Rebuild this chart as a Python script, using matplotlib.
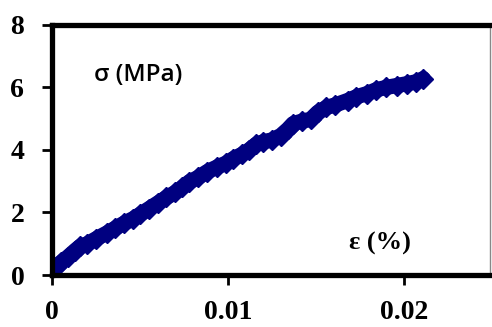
import matplotlib
matplotlib.use("Agg")
import matplotlib.pyplot as plt

# strain (%) and stress (MPa)
strain = [0.0000, 0.0002, 0.0005, 0.0009, 0.0013, 0.0016, 0.0020, 0.0025,
          0.0031, 0.0036, 0.0041, 0.0046, 0.0050, 0.0055, 0.0060, 0.0065,
          0.0070, 0.0074, 0.0078, 0.0083, 0.0088, 0.0094, 0.0099, 0.0103,
          0.0108, 0.0112, 0.0116, 0.0120, 0.0125, 0.0130, 0.0134, 0.0137,
          0.0142, 0.0147, 0.0151, 0.0156, 0.0161, 0.0168, 0.0173, 0.0179,
          0.0184, 0.0190, 0.0196, 0.0202, 0.0207, 0.0211]
stress = [0.18, 0.26, 0.40, 0.58, 0.78, 0.92, 1.00, 1.16,
          1.34, 1.50, 1.66, 1.80, 1.94, 2.12, 2.30, 2.48,
          2.64, 2.80, 2.98, 3.12, 3.30, 3.46, 3.58, 3.72,
          3.86, 4.00, 4.18, 4.26, 4.32, 4.46, 4.66, 4.84,
          4.92, 4.98, 5.20, 5.36, 5.44, 5.58, 5.70, 5.80,
          5.92, 6.00, 6.06, 6.12, 6.18, 6.28]

xticks = [0, 0.01, 0.02]
xtick_labels = ["0", "0.01", "0.02"]
yticks = [0, 2, 4, 6, 8]

fig = plt.figure(figsize=(4.92, 3.27), dpi=100)
ax = fig.add_axes([0.106, 0.159, 0.89, 0.765])

ax.plot(strain, stress, color="#000080", lw=11, solid_capstyle="round",
        solid_joinstyle="round", marker="D", ms=10)

ax.set_xlim(0, 0.0249)
ax.set_ylim(0, 8)
ax.set_xticks(xticks)
ax.set_xticklabels(xtick_labels)
ax.set_yticks(yticks)

for side in ["left", "bottom", "top"]:
    ax.spines[side].set_linewidth(3.8)
    ax.spines[side].set_color("black")
ax.spines["right"].set_linewidth(1)
ax.spines["right"].set_color("#888888")

ax.tick_params(axis="both", direction="out", length=7, width=2,
               top=False, right=False)
ax.tick_params(axis="x", pad=11)
ax.tick_params(axis="y", pad=13)
for lab in ax.get_xticklabels() + ax.get_yticklabels():
    lab.set_fontfamily("Liberation Serif")
    lab.set_fontweight("bold")
    lab.set_fontsize(20)

ax.text(0.0024, 6.4, "σ (MPa)", fontfamily="Open Sans", fontweight="semibold",
        fontsize=17.5, va="center", ha="left")
ax.text(0.0169, 1.0, "ε (%)", fontfamily="Liberation Serif", fontweight="bold",
        fontsize=19, va="center", ha="left")

fig.savefig("out.png", dpi=100)
